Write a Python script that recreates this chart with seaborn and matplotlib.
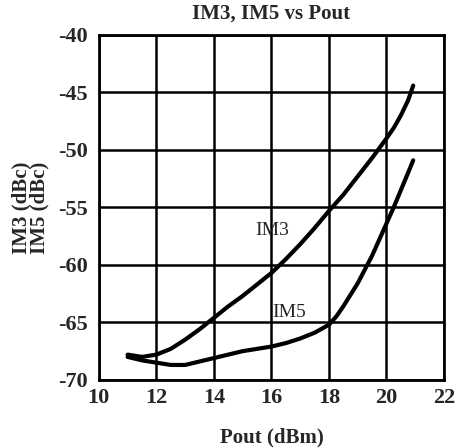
import numpy as np
import pandas as pd
import matplotlib
matplotlib.use("Agg")
import matplotlib.pyplot as plt
import seaborn as sns

# -----------------------------
# Data
# -----------------------------

im3_pout = [11, 11.5, 12, 12.5, 13, 13.5, 14, 14.5, 15, 15.5, 16, 16.5, 17, 17.5,
            18, 18.5, 19, 19.5, 20, 20.25, 20.5, 20.75, 20.93]
im3_dbc = [-67.8, -68.0, -67.8, -67.3, -66.5, -65.6, -64.6, -63.6, -62.7, -61.7, -60.7,
           -59.5, -58.2, -56.8, -55.3, -53.9, -52.3, -50.7, -49.0, -48.1, -47.0, -45.7, -44.4]

im5_pout = [11, 11.5, 12, 12.5, 13, 13.5, 14, 14.5, 15, 15.5, 16, 16.5, 17, 17.5,
            18, 18.25, 18.5, 18.75, 19, 19.25, 19.5, 19.75, 20, 20.25, 20.5, 20.75, 20.93]
im5_dbc = [-68.0, -68.3, -68.5, -68.7, -68.7, -68.4, -68.1, -67.8, -67.5, -67.3, -67.1,
           -66.8, -66.4, -65.9, -65.2, -64.5, -63.6, -62.6, -61.6, -60.4, -59.2, -57.8,
           -56.4, -55.0, -53.5, -52.0, -50.9]

x_ticks = [10, 12, 14, 16, 18, 20, 22]
y_ticks = [-70, -65, -60, -55, -50, -45, -40]

# -----------------------------
# Style
# -----------------------------

sns.set_style("white")
plt.rcParams['font.family'] = ['Liberation Serif', 'DejaVu Serif']

fig = plt.figure(figsize=(4.62, 4.48), dpi=100)
ax = fig.add_axes([0.214, 0.152, 0.747, 0.770])

# -----------------------------
# Curves
# -----------------------------

sns.lineplot(x=im3_pout, y=im3_dbc, ax=ax, color="black", lw=3, sort=False)
sns.lineplot(x=im5_pout, y=im5_dbc, ax=ax, color="black", lw=3, sort=False)

ax.text(16.02, -57.0, "IM3", fontsize=14, ha="center", va="center")
ax.text(16.63, -64.1, "IM5", fontsize=14, ha="center", va="center")

# -----------------------------
# Axes
# -----------------------------

ax.set_xlim(10, 22)
ax.set_ylim(-70, -40)
ax.set_xticks(x_ticks)
ax.set_yticks(y_ticks)
ax.set_xticklabels([str(t) for t in x_ticks], fontsize=16, fontweight="bold")
ax.set_yticklabels([str(t) for t in y_ticks], fontsize=16, fontweight="bold")
ax.tick_params(axis="x", length=0, pad=6)
ax.tick_params(axis="y", length=0, pad=8)

ax.grid(True, color="black", lw=1.8)
for s in ax.spines.values():
    s.set_color("black")
    s.set_linewidth(2)

ax.set_title("IM3, IM5 vs Pout", fontsize=15, fontweight="bold", pad=12)
ax.set_xlabel("Pout (dBm)", fontsize=15, fontweight="bold", labelpad=14)
ax.set_ylabel("IM3 (dBc)\nIM5 (dBc)", fontsize=15, fontweight="bold", labelpad=6, linespacing=0.85)

fig.savefig("out.png", dpi=100)
